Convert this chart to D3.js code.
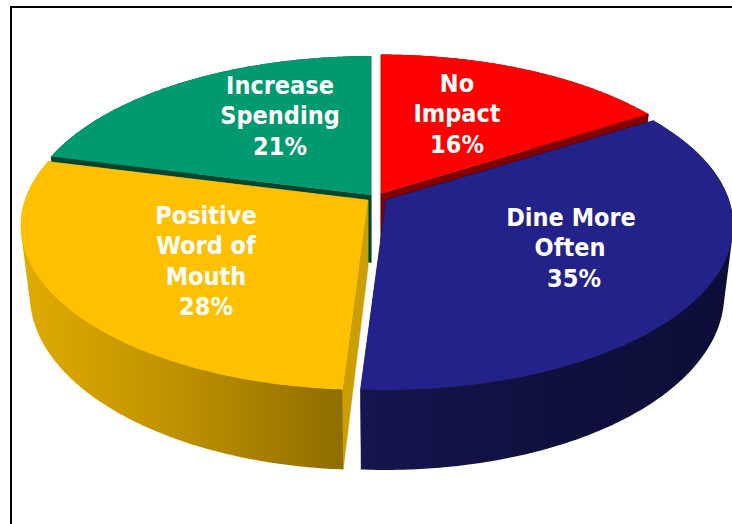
<!DOCTYPE html>
<html><head><meta charset="utf-8">
<script src="https://cdn.jsdelivr.net/npm/d3@7"></script>
<style>html,body{margin:0;padding:0;background:#fff;overflow:hidden}</style>
</head><body><div id="chart"></div>
<script>
const categories = ["No Impact","Dine More Often","Positive Word of Mouth","Increase Spending"];
const values = [16,35,28,21];
const labelLines = [["No","Impact","16%"],["Dine More","Often","35%"],["Positive","Word of","Mouth","28%"],["Increase","Spending","21%"]];

const W=732,H=524;
const topColors=["#FF0000","#22228A","#FFC000","#009A70"];
const cutColors=["#800000","#11114A","#CC9F00","#00452F"];
const wallFills=["#800000","url(#navyWall)","url(#goldWall)","#00452F"];
const apexes=[[381,193.5],[386,200],[368,200],[371,195]];
const labelAt=[[457,83],[571,217],[206,215],[280,85]];
const labelNudge=[[0,0,0],[0,-1,3],[0,0,0,0],[0,0,0]];
const drawOrder=[0,3,1,2];
const R=343,Ry=160.5,P=0.155,Depth=67.6,BaseShrink=0.974;

const svg=d3.select("#chart").append("svg").attr("width",W).attr("height",H).style("display","block");
const defs=svg.append("defs");
function grad(id,x1,x2,stops){
  const g=defs.append("linearGradient").attr("id",id).attr("gradientUnits","userSpaceOnUse")
    .attr("x1",x1).attr("x2",x2).attr("y1",0).attr("y2",0);
  stops.forEach(s=>g.append("stop").attr("offset",s[0]).attr("stop-color",s[1]));
}
grad("goldWall",25,342,[[0,"#E0AA00"],[0.5,"#BD9000"],[1,"#8F6E00"]]);
grad("navyWall",362,732,[[0,"#15154F"],[0.5,"#10103F"],[1,"#0D0D38"]]);

svg.append("path").attr("d",`M11,${H}V7H${W}`).attr("fill","none").attr("stroke","#000").attr("stroke-width",2);

const arcs=d3.pie().sort(null).value(d=>d)(values);
function project(a,r,apex,drop){
  const u=r*Math.sin(a),v=-r*Math.cos(a),w=1-P*v;
  const k=drop?BaseShrink:1;
  return [apex[0]+k*R*u/w, apex[1]+Ry*v/w+(drop?Depth/w:0)];
}
const line=d3.line().curve(d3.curveLinear);
function rim(s,e,apex,drop){
  const n=Math.max(2,Math.ceil((e-s)/0.01));
  return d3.range(n+1).map(i=>project(s+(e-s)*i/n,1,apex,drop));
}
const g=svg.append("g");
drawOrder.forEach(i=>{
  const d=arcs[i],ap=apexes[i],s=d.startAngle,e=d.endAngle;
  const c0=project(0,0,ap,false),c1=project(0,0,ap,true);
  [s,e].forEach(t=>{
    g.append("path").attr("fill",cutColors[i]).attr("stroke",cutColors[i]).attr("stroke-width",.5)
      .attr("d",line([c0,project(t,1,ap,false),project(t,1,ap,true),c1])+"Z");
  });
  const hull=d3.polygonHull(rim(s,e,ap,false).concat(rim(s,e,ap,true)));
  g.append("path").attr("fill",wallFills[i]).attr("d",line(hull)+"Z");
  g.append("path").attr("fill",topColors[i])
    .attr("d",line([c0].concat(rim(s,e,ap,false)))+"Z");
});
const lab=svg.append("g").attr("font-family","'DejaVu Sans Condensed','DejaVu Sans',sans-serif")
  .attr("font-weight",700).attr("font-size",25).attr("fill","#fff").attr("text-anchor","middle");
labelLines.forEach((ls,i)=>{
  ls.forEach((t,j)=>lab.append("text").attr("x",labelAt[i][0]+labelNudge[i][j]).attr("y",labelAt[i][1]+j*30.3).attr("dy","0.36em").text(t));
});
</script></body></html>
